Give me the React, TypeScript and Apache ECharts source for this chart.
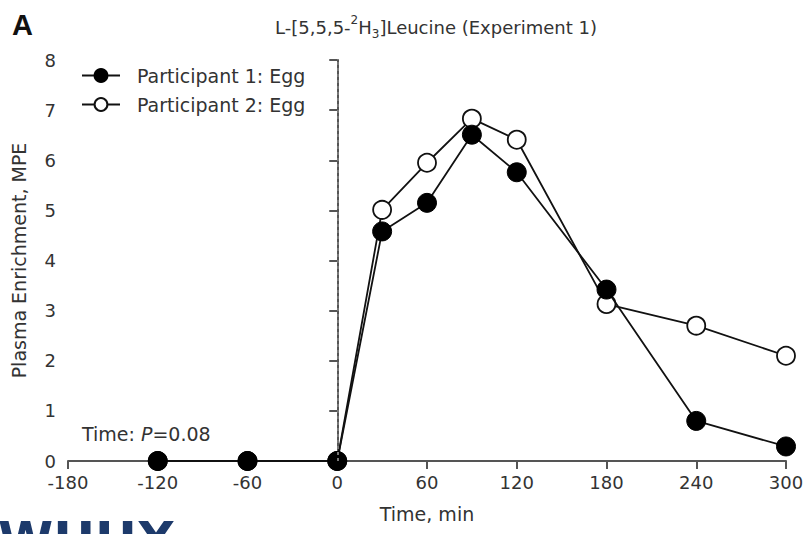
import React, { useEffect, useRef } from "react";
import * as echarts from "echarts";

const times = [-120, -60, 0, 30, 60, 90, 120, 180, 240, 300];
const participant1 = [0, 0, 0, 4.58, 5.15, 6.51, 5.76, 3.42, 0.8, 0.29];
const participant2 = [0, 0, 0, 5.01, 5.95, 6.83, 6.41, 3.13, 2.7, 2.1];
const seriesNames = ["Participant 1: Egg", "Participant 2: Egg"];
const xTicks = { min: -180, max: 300, interval: 60 };
const yTicks = { min: 0, max: 8, interval: 1 };

const FONT = "DejaVu Sans";

export default function App() {
  const ref = useRef<HTMLDivElement>(null);
  useEffect(() => {
    document.body.style.margin = "0";
    if (!ref.current) return;
    const chart = echarts.init(ref.current, null, { renderer: "svg" });
    const pairs = (vals: number[]) => times.map((t, i) => [t, vals[i]]);
    chart.setOption({
      animation: false,
      backgroundColor: "#ffffff",
      textStyle: { fontFamily: FONT },
      grid: { left: 68, right: 22, top: 60, bottom: 73, outerBoundsMode: "none" },
      legend: {
        orient: "vertical",
        left: 76,
        top: 61,
        itemWidth: 38,
        itemHeight: 16,
        itemGap: 10,
        data: seriesNames,
        textStyle: { fontFamily: FONT, fontSize: 19, color: "#333", padding: [0, 0, 0, 12] },
      },
      xAxis: {
        type: "value",
        min: xTicks.min,
        max: xTicks.max,
        interval: xTicks.interval,
        name: "Time, min",
        nameLocation: "middle",
        nameGap: 43,
        nameTextStyle: { fontFamily: FONT, fontSize: 19, color: "#333" },
        axisLine: { show: true, onZero: false, lineStyle: { color: "#555", width: 2 } },
        axisTick: { show: true, length: 8, lineStyle: { color: "#555", width: 2 } },
        axisLabel: { fontFamily: FONT, fontSize: 18, color: "#333", margin: 12 },
        splitLine: { show: false },
      },
      yAxis: {
        type: "value",
        min: yTicks.min,
        max: yTicks.max,
        interval: yTicks.interval,
        name: "Plasma Enrichment, MPE",
        nameLocation: "middle",
        nameGap: 40,
        nameTextStyle: { fontFamily: FONT, fontSize: 19, color: "#333" },
        axisLine: { show: true, lineStyle: { color: "#555", width: 2 } },
        axisTick: { show: true, length: 8, lineStyle: { color: "#555", width: 2 } },
        axisLabel: { fontFamily: FONT, fontSize: 18, color: "#333", margin: 12 },
        splitLine: { show: false },
      },
      series: [
        {
          name: seriesNames[1],
          type: "line",
          data: pairs(participant2),
          symbol: "circle",
          symbolSize: 18,
          lineStyle: { color: "#111", width: 1.8 },
          itemStyle: { color: "#fff", borderColor: "#111", borderWidth: 1.8 },
          z: 3,
          markLine: {
            silent: true,
            symbol: "none",
            label: { show: false },
            lineStyle: { color: "#777", type: [3, 3], width: 2 },
            data: [{ xAxis: 0 }],
          },
        },
        {
          name: seriesNames[0],
          type: "line",
          data: pairs(participant1),
          symbol: "circle",
          symbolSize: 19,
          lineStyle: { color: "#111", width: 1.8 },
          itemStyle: { color: "#000", borderColor: "#000", borderWidth: 1 },
          z: 4,
        },
      ],
      graphic: [
        {
          type: "text",
          left: 12,
          top: 10,
          style: { text: "A", fontFamily: "Liberation Sans", fontWeight: "bold", fontSize: 29, fill: "#111" },
        },
        {
          type: "text",
          x: 436,
          y: 27,
          style: {
            text: "{a|L-[5,5,5-}{sup|2}{a|H}{sub|3}{a|]Leucine (Experiment 1)}",
            align: "center",
            verticalAlign: "middle",
            rich: {
              a: { fontFamily: FONT, fontSize: 18, fill: "#333", lineHeight: 26 },
              sup: { fontFamily: FONT, fontSize: 12, fill: "#333", verticalAlign: "top", lineHeight: 14 },
              sub: { fontFamily: FONT, fontSize: 12, fill: "#333", verticalAlign: "bottom", lineHeight: 14 },
            },
          },
        },
        {
          type: "text",
          x: 82,
          y: 434,
          style: {
            text: "{a|Time: }{i|P}{a|=0.08}",
            verticalAlign: "middle",
            rich: {
              a: { fontFamily: FONT, fontSize: 19, fill: "#333" },
              i: { fontFamily: FONT, fontSize: 19, fill: "#333", fontStyle: "italic" },
            },
          },
        },
        {
          type: "text",
          x: -2,
          y: 515,
          style: {
            text: "WHHX",
            verticalAlign: "top",
            fontFamily: FONT,
            fontWeight: "bold",
            fontSize: 50,
            fill: "#1d3a6b",
          },
        },
      ],
    });
    return () => chart.dispose();
  }, []);
  return <div ref={ref} style={{ width: 808, height: 534 }} />;
}
